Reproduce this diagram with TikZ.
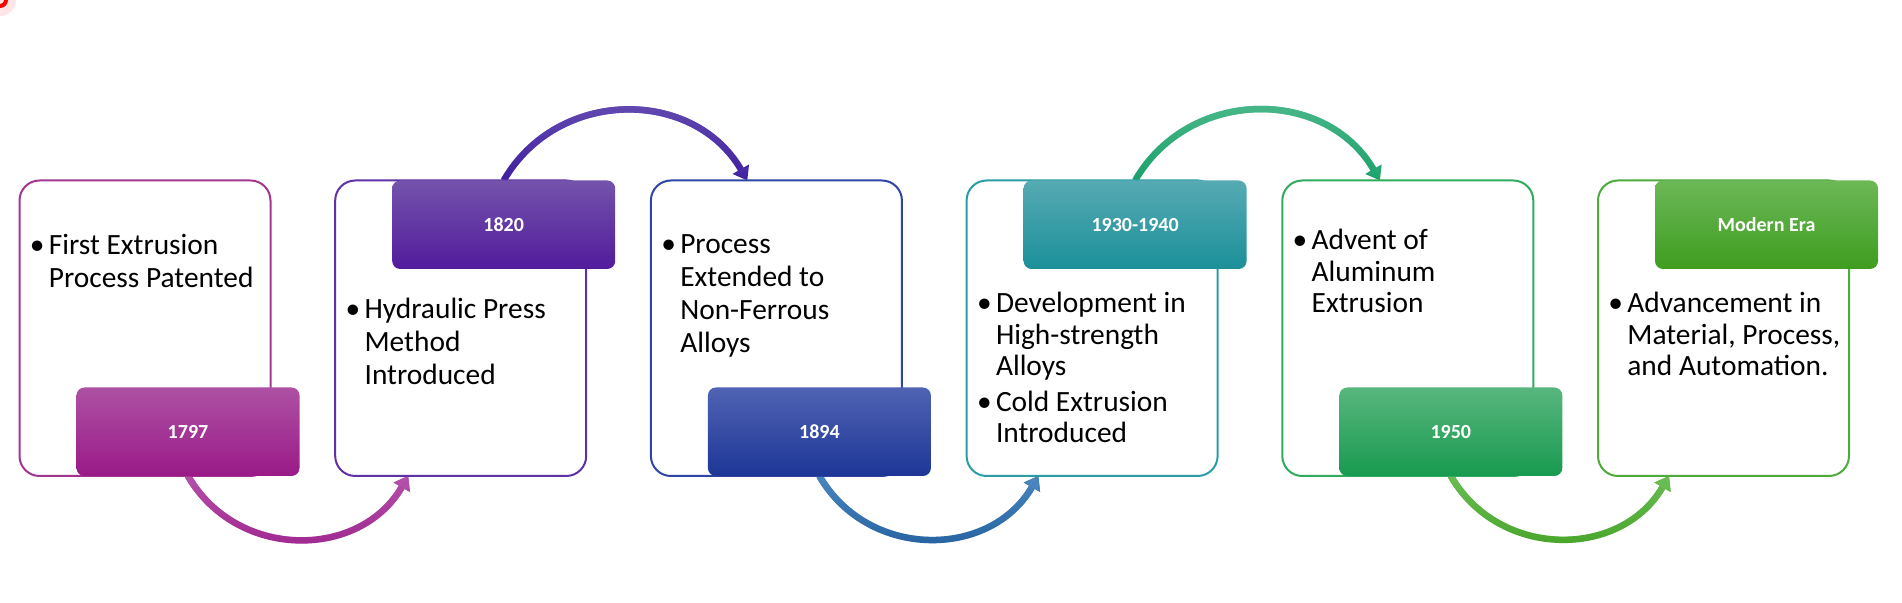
\documentclass[tikz,border=0pt]{standalone}
\usepackage{fontspec}
\setmainfont{Carlito}
\usetikzlibrary{arrows.meta,fadings,backgrounds}

\definecolor{lineA}{HTML}{A2368F}
\definecolor{lineB}{HTML}{5F30A6}
\definecolor{lineC}{HTML}{2E45A6}
\definecolor{lineD}{HTML}{2A9DA5}
\definecolor{lineE}{HTML}{2FAA5E}
\definecolor{lineF}{HTML}{4CAB3A}
\definecolor{dateAtop}{HTML}{AD51A3}
\definecolor{dateAbot}{HTML}{9A1A88}
\definecolor{dateBtop}{HTML}{7453AC}
\definecolor{dateBbot}{HTML}{521B9B}
\definecolor{dateCtop}{HTML}{5063B3}
\definecolor{dateCbot}{HTML}{1D3797}
\definecolor{dateDtop}{HTML}{56AAB3}
\definecolor{dateDbot}{HTML}{1B9099}
\definecolor{dateEtop}{HTML}{58B67D}
\definecolor{dateEbot}{HTML}{189A50}
\definecolor{dateFtop}{HTML}{6CB857}
\definecolor{dateFbot}{HTML}{3E9D1F}
\definecolor{flowAtop}{HTML}{B552AA}
\definecolor{flowAbot}{HTML}{9C1F8B}
\definecolor{flowBtop}{HTML}{6A55B5}
\definecolor{flowBbot}{HTML}{3F1DA0}
\definecolor{flowCtop}{HTML}{4B87C0}
\definecolor{flowCbot}{HTML}{1F5C9B}
\definecolor{flowDtop}{HTML}{55BD90}
\definecolor{flowDbot}{HTML}{1AA06A}
\definecolor{flowEtop}{HTML}{6BBE55}
\definecolor{flowEbot}{HTML}{42A023}

\tikzfading[name=fadedown, top color=transparent!0, bottom color=transparent!100]

\begin{document}
\begin{tikzpicture}[x=0.5pt,y=0.5pt]
\tikzset{textbox/.style={line width=1pt, rounded corners=10pt, fill=white,
    minimum width=125.5pt, minimum height=147.75pt, inner sep=0pt, outer sep=0pt},
  datebox/.style={rounded corners=4pt, minimum width=111.5pt, minimum height=44.25pt,
    inner sep=0pt, outer sep=0pt, text=white, font=\fontsize{10pt}{12pt}\selectfont\bfseries},
  bullets/.style={anchor=base west, inner sep=0pt, font=\fontsize{14.7pt}{15.75pt}\selectfont},
  widebullets/.style={bullets, font=\fontsize{14.7pt}{16.5pt}\selectfont},
  flow/.style={line width=3.25pt, -{Triangle[width=9pt,length=6.5pt]}}}
\newcommand{\bul}{\makebox[8.5pt][l]{\hspace{-1pt}\textbullet}}
\useasboundingbox (0,0) rectangle (1902,603);
% corner mark
\fill[red!10] (0,603) circle (16);
\draw[red, line width=2pt] (0,603) circle (6);
% text boxes
\node[textbox, draw=lineA] (b1) at (145,274.75) {};
\node[textbox, draw=lineB] (b2) at (460.7,274.75) {};
\node[textbox, draw=lineC] (b3) at (776.4,274.75) {};
\node[textbox, draw=lineD] (b4) at (1092.1,274.75) {};
\node[textbox, draw=lineE] (b5) at (1407.8,274.75) {};
\node[textbox, draw=lineF] (b6) at (1723.5,274.75) {};
\node[widebullets] (t1) at (31.5,348) {\begin{tabular}[t]{@{}l@{}l@{}}\bul & First Extrusion\\ & Process Patented\end{tabular}};
\node[widebullets] (t2) at (347.2,284.5) {\begin{tabular}[t]{@{}l@{}l@{}}\bul & Hydraulic Press\\ & Method\\ & Introduced\end{tabular}};
\node[widebullets] (t3) at (662.9,349) {\begin{tabular}[t]{@{}l@{}l@{}}\bul & Process\\ & Extended to\\ & Non-Ferrous\\ & Alloys\end{tabular}};
\node[bullets] (t4) at (978.6,290.3) {\begin{tabular}[t]{@{}l@{}l@{}}\bul & Development in\\ & High-strength\\ & Alloys\\[2pt] \bul & Cold Extrusion\\ & Introduced\end{tabular}};
\node[bullets] (t5) at (1294.3,353) {\begin{tabular}[t]{@{}l@{}l@{}}\bul & Advent of\\ & Aluminum\\ & Extrusion\end{tabular}};
\node[bullets] (t6) at (1610,290.3) {\begin{tabular}[t]{@{}l@{}l@{}}\bul & Advancement in\\ & Material, Process,\\ & and Automation.\end{tabular}};
% date tabs
\node[datebox, top color=dateAtop, bottom color=dateAbot] (d1) at (188,171.25) {1797};
\node[datebox, top color=dateBtop, bottom color=dateBbot] (d2) at (503.7,378.25) {1820};
\node[datebox, top color=dateCtop, bottom color=dateCbot] (d3) at (819.4,171.25) {1894};
\node[datebox, top color=dateDtop, bottom color=dateDbot] (d4) at (1135.1,378.25) {1930-1940};
\node[datebox, top color=dateEtop, bottom color=dateEbot] (d5) at (1450.8,171.25) {1950};
\node[datebox, top color=dateFtop, bottom color=dateFbot] (d6) at (1766.5,378.25) {Modern Era};
% arrow ends
\coordinate (e1) at ([xshift=36.5pt]b2.south west);
\coordinate (e2) at ([xshift=48.2pt]b3.north west);
\coordinate (e3) at ([xshift=35.9pt]b4.south west);
\coordinate (e4) at ([xshift=48.8pt]b5.north west);
\coordinate (e5) at ([xshift=35.5pt]b6.south west);
\begin{pgfonlayer}{background}
\draw[flow, flowAbot] (d1.south) to[out=-60,in=-120,looseness=1.13] (e1);
\draw[flow, flowAtop, path fading=fadedown] (d1.south) to[out=-60,in=-120,looseness=1.13] (e1);
\draw[flow, flowBbot] (d2.north) to[out=60,in=120,looseness=1.13] (e2);
\draw[flow, flowBtop, path fading=fadedown] (d2.north) to[out=60,in=120,looseness=1.13] (e2);
\draw[flow, flowCbot] (d3.south) to[out=-60,in=-120,looseness=1.13] (e3);
\draw[flow, flowCtop, path fading=fadedown] (d3.south) to[out=-60,in=-120,looseness=1.13] (e3);
\draw[flow, flowDbot] (d4.north) to[out=60,in=120,looseness=1.13] (e4);
\draw[flow, flowDtop, path fading=fadedown] (d4.north) to[out=60,in=120,looseness=1.13] (e4);
\draw[flow, flowEbot] (d5.south) to[out=-60,in=-120,looseness=1.13] (e5);
\draw[flow, flowEtop, path fading=fadedown] (d5.south) to[out=-60,in=-120,looseness=1.13] (e5);
\end{pgfonlayer}
\end{tikzpicture}
\end{document}
